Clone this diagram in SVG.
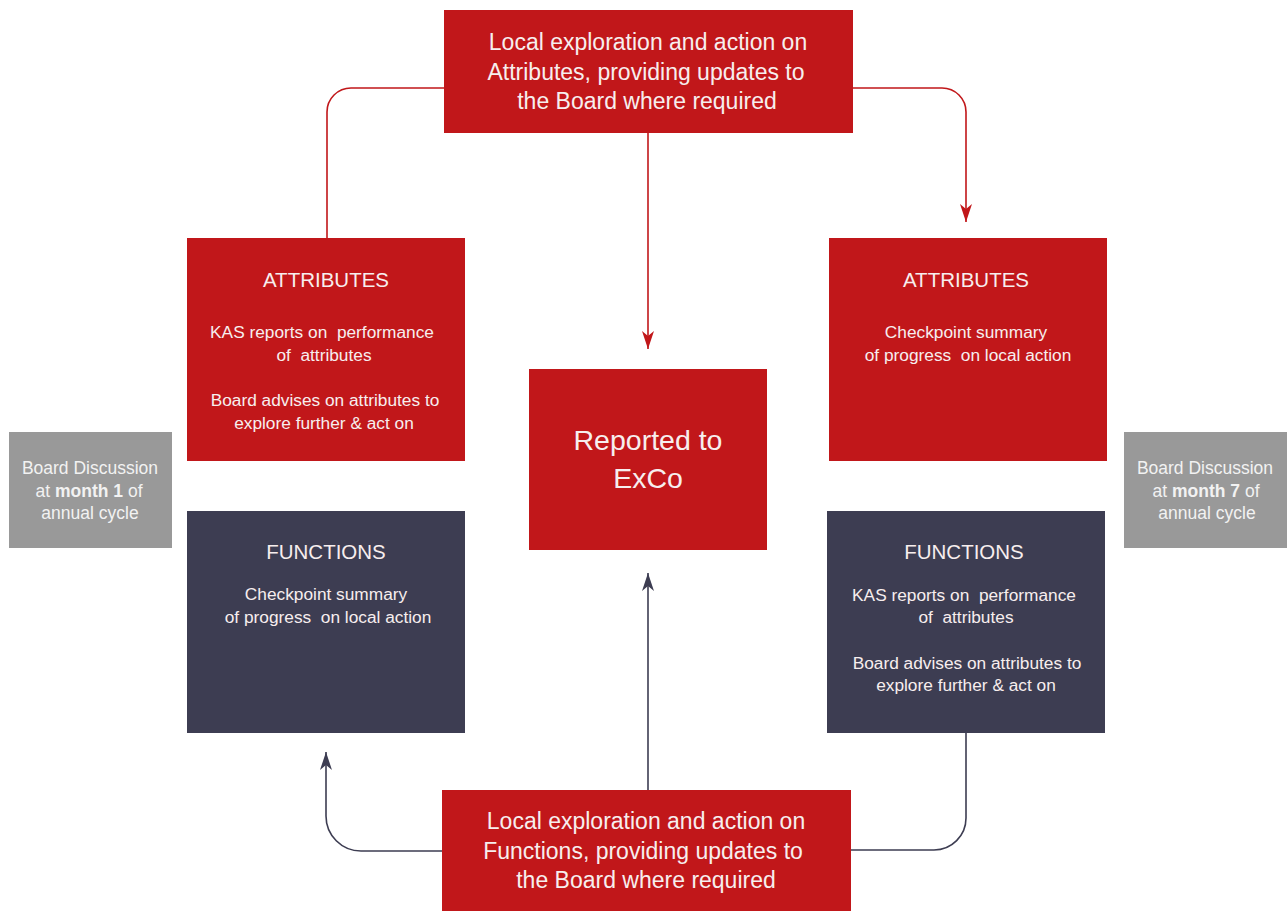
<svg xmlns="http://www.w3.org/2000/svg" width="1287" height="911" viewBox="0 0 1287 911">
  <style>
    .red { fill: #c1171a; }
    .dark { fill: #3d3d52; }
    .grey { fill: #999999; }
    text { font-family: "Liberation Sans", Arial, sans-serif; fill: #f7eeee; text-anchor: middle; white-space: pre; }
    .big { font-size: 23px; }
    .head { font-size: 20.5px; }
    .body { font-size: 17.3px; }
    .note { font-size: 17.5px; fill: #f2f2f2; }
    .centre { font-size: 28.5px; }
    .link-red { fill: none; stroke: #c1171a; stroke-width: 1.6; }
    .link-dark { fill: none; stroke: #3d3d52; stroke-width: 1.6; }
  </style>
  <defs>
    <marker id="arrow-red" viewBox="0 -6 18 12" refX="18" refY="0" markerWidth="18" markerHeight="12" markerUnits="userSpaceOnUse" orient="auto">
      <path d="M0,-6 L18,0 L0,6 L5,0 Z" fill="#c1171a"/>
    </marker>
    <marker id="arrow-dark" viewBox="0 -6 18 12" refX="18" refY="0" markerWidth="18" markerHeight="12" markerUnits="userSpaceOnUse" orient="auto">
      <path d="M0,-6 L18,0 L0,6 L5,0 Z" fill="#3d3d52"/>
    </marker>
  </defs>
  <rect width="1287" height="911" fill="#ffffff"/>

  <g id="connectors">
    <path class="link-red" d="M444,88 H351 A24,24 0 0 0 327,112 V238"/>
    <path class="link-red" d="M853,88 H942 A24,24 0 0 1 966,112 V222" marker-end="url(#arrow-red)"/>
    <path class="link-red" d="M648,133 V349" marker-end="url(#arrow-red)"/>
    <path class="link-dark" d="M648,790 V573" marker-end="url(#arrow-dark)"/>
    <path class="link-dark" d="M442,851 H361 A35,35 0 0 1 326,816 V752" marker-end="url(#arrow-dark)"/>
    <path class="link-dark" d="M966,733 V818 A32,32 0 0 1 934,850 H851"/>
  </g>

  <g id="local-attributes">
    <rect class="red" x="444" y="10" width="409" height="123"/>
    <text class="big" x="648" y="50">Local exploration and action on</text>
    <text class="big" x="646" y="80">Attributes, providing updates to</text>
    <text class="big" x="647" y="109">the Board where required</text>
  </g>

  <g id="attributes-left">
    <rect class="red" x="187" y="238" width="278" height="223"/>
    <text class="head" x="326" y="287">ATTRIBUTES</text>
    <text class="body" x="322" y="338">KAS reports on  performance</text>
    <text class="body" x="324" y="361">of  attributes</text>
    <text class="body" x="325" y="406">Board advises on attributes to</text>
    <text class="body" x="324" y="429">explore further &amp; act on</text>
  </g>

  <g id="attributes-right">
    <rect class="red" x="829" y="238" width="278" height="223"/>
    <text class="head" x="966" y="287">ATTRIBUTES</text>
    <text class="body" x="966" y="338">Checkpoint summary</text>
    <text class="body" x="968" y="361">of progress  on local action</text>
  </g>

  <g id="reported-exco">
    <rect class="red" x="529" y="369" width="238" height="181"/>
    <text class="centre" x="648" y="450">Reported to</text>
    <text class="centre" x="648" y="488">ExCo</text>
  </g>

  <g id="functions-left">
    <rect class="dark" x="187" y="511" width="278" height="222"/>
    <text class="head" x="326" y="559">FUNCTIONS</text>
    <text class="body" x="326" y="600">Checkpoint summary</text>
    <text class="body" x="328" y="623">of progress  on local action</text>
  </g>

  <g id="functions-right">
    <rect class="dark" x="827" y="511" width="278" height="222"/>
    <text class="head" x="964" y="559">FUNCTIONS</text>
    <text class="body" x="964" y="601">KAS reports on  performance</text>
    <text class="body" x="966" y="623">of  attributes</text>
    <text class="body" x="967" y="669">Board advises on attributes to</text>
    <text class="body" x="966" y="691">explore further &amp; act on</text>
  </g>

  <g id="local-functions">
    <rect class="red" x="442" y="790" width="409" height="121"/>
    <text class="big" x="646" y="829">Local exploration and action on</text>
    <text class="big" x="643" y="859">Functions, providing updates to</text>
    <text class="big" x="646" y="888">the Board where required</text>
  </g>

  <g id="board-month-1">
    <rect class="grey" x="9" y="432" width="163" height="116"/>
    <text class="note" x="90" y="474">Board Discussion</text>
    <text class="note" x="89" y="497">at <tspan font-weight="bold">month 1</tspan> of</text>
    <text class="note" x="90" y="519">annual cycle</text>
  </g>

  <g id="board-month-7">
    <rect class="grey" x="1124" y="432" width="163" height="116"/>
    <text class="note" x="1205" y="474">Board Discussion</text>
    <text class="note" x="1206" y="497">at <tspan font-weight="bold">month 7</tspan> of</text>
    <text class="note" x="1207" y="519">annual cycle</text>
  </g>
</svg>
